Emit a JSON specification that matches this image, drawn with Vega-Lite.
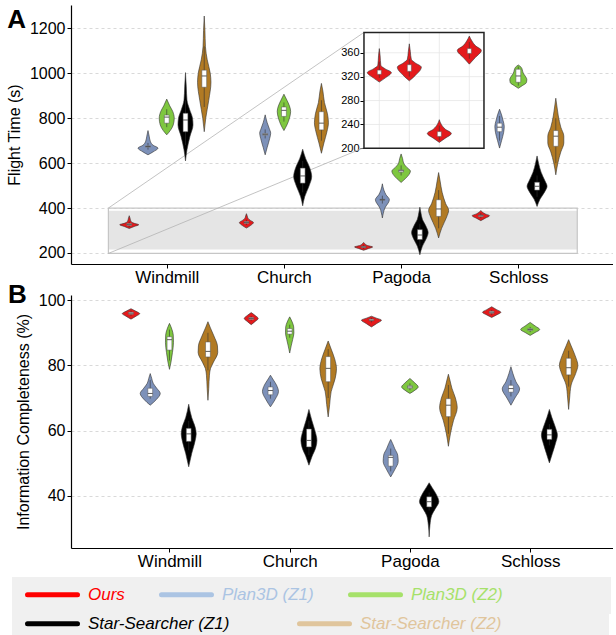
{
"$schema": "https://vega.github.io/schema/vega-lite/v6.json",
"padding": {"left": 6, "top": 5, "right": 0, "bottom": 0},
"background": "white",
"config": {
 "font": "Liberation Sans",
 "view": {"stroke": null},
 "axis": {"labelColor": "#000", "titleColor": "#000", "domainColor": "#000", "tickColor": "#000", "labelFont": "Liberation Sans", "titleFont": "Liberation Sans", "titleFontWeight": "normal"}
},
"datasets": {
 "vA": [
  {"s":"Windmill","m":"O","v":309,"d":0},{"s":"Windmill","m":"O","v":318,"d":5},{"s":"Windmill","m":"O","v":326,"d":9.5},{"s":"Windmill","m":"O","v":332,"d":5},{"s":"Windmill","m":"O","v":340,"d":1.8},{"s":"Windmill","m":"O","v":355,"d":0.8},{"s":"Windmill","m":"O","v":366,"d":0},
  {"s":"Windmill","m":"P1","v":637,"d":0},{"s":"Windmill","m":"P1","v":650,"d":5},{"s":"Windmill","m":"P1","v":667,"d":10},{"s":"Windmill","m":"P1","v":680,"d":5},{"s":"Windmill","m":"P1","v":695,"d":2.5},{"s":"Windmill","m":"P1","v":720,"d":1.2},{"s":"Windmill","m":"P1","v":745,"d":0},
  {"s":"Windmill","m":"P2","v":726,"d":0},{"s":"Windmill","m":"P2","v":745,"d":3.5},{"s":"Windmill","m":"P2","v":770,"d":6.5},{"s":"Windmill","m":"P2","v":800,"d":7.5},{"s":"Windmill","m":"P2","v":830,"d":6},{"s":"Windmill","m":"P2","v":855,"d":3},{"s":"Windmill","m":"P2","v":885,"d":0},
  {"s":"Windmill","m":"S1","v":610,"d":0},{"s":"Windmill","m":"S1","v":660,"d":1.5},{"s":"Windmill","m":"S1","v":720,"d":4.5},{"s":"Windmill","m":"S1","v":770,"d":7.5},{"s":"Windmill","m":"S1","v":800,"d":7},{"s":"Windmill","m":"S1","v":840,"d":4},{"s":"Windmill","m":"S1","v":880,"d":1.5},{"s":"Windmill","m":"S1","v":940,"d":0.8},{"s":"Windmill","m":"S1","v":1003,"d":0},
  {"s":"Windmill","m":"S2","v":740,"d":0},{"s":"Windmill","m":"S2","v":800,"d":1.5},{"s":"Windmill","m":"S2","v":880,"d":4.5},{"s":"Windmill","m":"S2","v":960,"d":6.7},{"s":"Windmill","m":"S2","v":1000,"d":6},{"s":"Windmill","m":"S2","v":1060,"d":3},{"s":"Windmill","m":"S2","v":1118,"d":1.2},{"s":"Windmill","m":"S2","v":1190,"d":0.7},{"s":"Windmill","m":"S2","v":1255,"d":0},
  {"s":"Church","m":"O","v":311,"d":0},{"s":"Church","m":"O","v":322,"d":4},{"s":"Church","m":"O","v":336,"d":7},{"s":"Church","m":"O","v":345,"d":4},{"s":"Church","m":"O","v":355,"d":1.5},{"s":"Church","m":"O","v":365,"d":0.8},{"s":"Church","m":"O","v":375,"d":0},
  {"s":"Church","m":"P1","v":637,"d":0},{"s":"Church","m":"P1","v":670,"d":2},{"s":"Church","m":"P1","v":710,"d":4.5},{"s":"Church","m":"P1","v":733,"d":5.5},{"s":"Church","m":"P1","v":755,"d":4},{"s":"Church","m":"P1","v":780,"d":2},{"s":"Church","m":"P1","v":815,"d":0},
  {"s":"Church","m":"P2","v":745,"d":0},{"s":"Church","m":"P2","v":770,"d":3},{"s":"Church","m":"P2","v":800,"d":5.5},{"s":"Church","m":"P2","v":830,"d":6.7},{"s":"Church","m":"P2","v":855,"d":5.5},{"s":"Church","m":"P2","v":880,"d":3},{"s":"Church","m":"P2","v":907,"d":0},
  {"s":"Church","m":"S1","v":410,"d":0},{"s":"Church","m":"S1","v":450,"d":2},{"s":"Church","m":"S1","v":500,"d":6.5},{"s":"Church","m":"S1","v":540,"d":9},{"s":"Church","m":"S1","v":580,"d":7},{"s":"Church","m":"S1","v":620,"d":3},{"s":"Church","m":"S1","v":662,"d":0},
  {"s":"Church","m":"S2","v":644,"d":0},{"s":"Church","m":"S2","v":690,"d":2.5},{"s":"Church","m":"S2","v":740,"d":5.5},{"s":"Church","m":"S2","v":780,"d":7},{"s":"Church","m":"S2","v":820,"d":6},{"s":"Church","m":"S2","v":870,"d":3},{"s":"Church","m":"S2","v":920,"d":1.5},{"s":"Church","m":"S2","v":955,"d":0},
  {"s":"Pagoda","m":"O","v":212,"d":0},{"s":"Pagoda","m":"O","v":220,"d":5},{"s":"Pagoda","m":"O","v":227,"d":9},{"s":"Pagoda","m":"O","v":233,"d":4},{"s":"Pagoda","m":"O","v":240,"d":1.5},{"s":"Pagoda","m":"O","v":247,"d":0},
  {"s":"Pagoda","m":"P1","v":356,"d":0},{"s":"Pagoda","m":"P1","v":400,"d":2.5},{"s":"Pagoda","m":"P1","v":437,"d":7},{"s":"Pagoda","m":"P1","v":460,"d":3.5},{"s":"Pagoda","m":"P1","v":480,"d":1.5},{"s":"Pagoda","m":"P1","v":508,"d":0},
  {"s":"Pagoda","m":"P2","v":514,"d":0},{"s":"Pagoda","m":"P2","v":530,"d":4},{"s":"Pagoda","m":"P2","v":550,"d":8},{"s":"Pagoda","m":"P2","v":565,"d":9.3},{"s":"Pagoda","m":"P2","v":580,"d":6},{"s":"Pagoda","m":"P2","v":600,"d":2.5},{"s":"Pagoda","m":"P2","v":620,"d":1.5},{"s":"Pagoda","m":"P2","v":641,"d":0},
  {"s":"Pagoda","m":"S1","v":192,"d":0},{"s":"Pagoda","m":"S1","v":230,"d":2.5},{"s":"Pagoda","m":"S1","v":270,"d":7},{"s":"Pagoda","m":"S1","v":290,"d":8.3},{"s":"Pagoda","m":"S1","v":320,"d":6},{"s":"Pagoda","m":"S1","v":350,"d":2.5},{"s":"Pagoda","m":"S1","v":380,"d":1},{"s":"Pagoda","m":"S1","v":404,"d":0},
  {"s":"Pagoda","m":"S2","v":267,"d":0},{"s":"Pagoda","m":"S2","v":310,"d":3},{"s":"Pagoda","m":"S2","v":360,"d":8},{"s":"Pagoda","m":"S2","v":390,"d":10},{"s":"Pagoda","m":"S2","v":420,"d":7},{"s":"Pagoda","m":"S2","v":470,"d":3.5},{"s":"Pagoda","m":"S2","v":520,"d":1.5},{"s":"Pagoda","m":"S2","v":558,"d":0},
  {"s":"Schloss","m":"O","v":344,"d":0},{"s":"Schloss","m":"O","v":355,"d":4.5},{"s":"Schloss","m":"O","v":366,"d":8.7},{"s":"Schloss","m":"O","v":374,"d":4.5},{"s":"Schloss","m":"O","v":382,"d":1.5},{"s":"Schloss","m":"O","v":389,"d":0},
  {"s":"Schloss","m":"P1","v":667,"d":0},{"s":"Schloss","m":"P1","v":700,"d":2},{"s":"Schloss","m":"P1","v":735,"d":4},{"s":"Schloss","m":"P1","v":763,"d":4.7},{"s":"Schloss","m":"P1","v":790,"d":3.5},{"s":"Schloss","m":"P1","v":815,"d":2},{"s":"Schloss","m":"P1","v":840,"d":0},
  {"s":"Schloss","m":"P2","v":933,"d":0},{"s":"Schloss","m":"P2","v":945,"d":4},{"s":"Schloss","m":"P2","v":958,"d":8},{"s":"Schloss","m":"P2","v":972,"d":8.5},{"s":"Schloss","m":"P2","v":987,"d":7},{"s":"Schloss","m":"P2","v":1000,"d":5},{"s":"Schloss","m":"P2","v":1015,"d":4},{"s":"Schloss","m":"P2","v":1026,"d":3},{"s":"Schloss","m":"P2","v":1037,"d":0},
  {"s":"Schloss","m":"S1","v":407,"d":0},{"s":"Schloss","m":"S1","v":440,"d":3},{"s":"Schloss","m":"S1","v":475,"d":8},{"s":"Schloss","m":"S1","v":497,"d":10},{"s":"Schloss","m":"S1","v":520,"d":8},{"s":"Schloss","m":"S1","v":560,"d":4},{"s":"Schloss","m":"S1","v":600,"d":1.5},{"s":"Schloss","m":"S1","v":632,"d":0},
  {"s":"Schloss","m":"S2","v":548,"d":0},{"s":"Schloss","m":"S2","v":600,"d":2},{"s":"Schloss","m":"S2","v":650,"d":5},{"s":"Schloss","m":"S2","v":690,"d":8},{"s":"Schloss","m":"S2","v":720,"d":8},{"s":"Schloss","m":"S2","v":760,"d":5},{"s":"Schloss","m":"S2","v":810,"d":2.5},{"s":"Schloss","m":"S2","v":850,"d":1.2},{"s":"Schloss","m":"S2","v":889,"d":0}
 ],
 "vI": [
  {"s":"Windmill","m":"O","v":311,"d":0},{"s":"Windmill","m":"O","v":318,"d":6},{"s":"Windmill","m":"O","v":327,"d":12},{"s":"Windmill","m":"O","v":333,"d":6},{"s":"Windmill","m":"O","v":339,"d":1.5},{"s":"Windmill","m":"O","v":355,"d":0.8},{"s":"Windmill","m":"O","v":367,"d":0},
  {"s":"Church","m":"O","v":313,"d":0},{"s":"Church","m":"O","v":322,"d":6},{"s":"Church","m":"O","v":336,"d":12},{"s":"Church","m":"O","v":343,"d":6},{"s":"Church","m":"O","v":349,"d":2},{"s":"Church","m":"O","v":362,"d":1},{"s":"Church","m":"O","v":375,"d":0},
  {"s":"Pagoda","m":"O","v":210,"d":0},{"s":"Pagoda","m":"O","v":217,"d":6},{"s":"Pagoda","m":"O","v":225,"d":12},{"s":"Pagoda","m":"O","v":232,"d":6},{"s":"Pagoda","m":"O","v":240,"d":2},{"s":"Pagoda","m":"O","v":248,"d":0},
  {"s":"Schloss","m":"O","v":341,"d":0},{"s":"Schloss","m":"O","v":352,"d":6},{"s":"Schloss","m":"O","v":364,"d":12},{"s":"Schloss","m":"O","v":372,"d":6},{"s":"Schloss","m":"O","v":380,"d":2.5},{"s":"Schloss","m":"O","v":388,"d":0}
 ],
 "vB": [
  {"s":"Windmill","m":"O","v":94.2,"d":0},{"s":"Windmill","m":"O","v":95.1,"d":5},{"s":"Windmill","m":"O","v":95.9,"d":8.7},{"s":"Windmill","m":"O","v":96.6,"d":5},{"s":"Windmill","m":"O","v":97.4,"d":0},
  {"s":"Windmill","m":"P1","v":67.8,"d":0},{"s":"Windmill","m":"P1","v":69.5,"d":6},{"s":"Windmill","m":"P1","v":71.4,"d":10},{"s":"Windmill","m":"P1","v":73,"d":6.5},{"s":"Windmill","m":"P1","v":74.5,"d":3},{"s":"Windmill","m":"P1","v":76,"d":1.5},{"s":"Windmill","m":"P1","v":77.5,"d":0},
  {"s":"Windmill","m":"P2","v":78.8,"d":0},{"s":"Windmill","m":"P2","v":81,"d":1.5},{"s":"Windmill","m":"P2","v":84,"d":3},{"s":"Windmill","m":"P2","v":87,"d":4},{"s":"Windmill","m":"P2","v":89.3,"d":3.8},{"s":"Windmill","m":"P2","v":91,"d":2.5},{"s":"Windmill","m":"P2","v":92.9,"d":0},
  {"s":"Windmill","m":"S1","v":48.9,"d":0},{"s":"Windmill","m":"S1","v":53,"d":3},{"s":"Windmill","m":"S1","v":57,"d":6.5},{"s":"Windmill","m":"S1","v":59,"d":7.5},{"s":"Windmill","m":"S1","v":61,"d":6.5},{"s":"Windmill","m":"S1","v":64,"d":3},{"s":"Windmill","m":"S1","v":68.1,"d":0},
  {"s":"Windmill","m":"S2","v":69.3,"d":0},{"s":"Windmill","m":"S2","v":73,"d":0.8},{"s":"Windmill","m":"S2","v":77,"d":1.5},{"s":"Windmill","m":"S2","v":79,"d":2.5},{"s":"Windmill","m":"S2","v":81,"d":5.5},{"s":"Windmill","m":"S2","v":84,"d":9.8},{"s":"Windmill","m":"S2","v":86,"d":9.5},{"s":"Windmill","m":"S2","v":89,"d":6},{"s":"Windmill","m":"S2","v":91.5,"d":2.5},{"s":"Windmill","m":"S2","v":93.4,"d":0},
  {"s":"Church","m":"O","v":92.5,"d":0},{"s":"Church","m":"O","v":93.5,"d":4},{"s":"Church","m":"O","v":94.4,"d":7},{"s":"Church","m":"O","v":95.3,"d":4},{"s":"Church","m":"O","v":96.2,"d":0},
  {"s":"Church","m":"P1","v":67.3,"d":0},{"s":"Church","m":"P1","v":69.5,"d":4.5},{"s":"Church","m":"P1","v":72,"d":8},{"s":"Church","m":"P1","v":74,"d":6},{"s":"Church","m":"P1","v":75.5,"d":3},{"s":"Church","m":"P1","v":77,"d":0},
  {"s":"Church","m":"P2","v":83.8,"d":0},{"s":"Church","m":"P2","v":86,"d":1.5},{"s":"Church","m":"P2","v":88,"d":3},{"s":"Church","m":"P2","v":90,"d":4.2},{"s":"Church","m":"P2","v":91.8,"d":4},{"s":"Church","m":"P2","v":93.3,"d":2.5},{"s":"Church","m":"P2","v":94.9,"d":0},
  {"s":"Church","m":"S1","v":49.4,"d":0},{"s":"Church","m":"S1","v":52,"d":3},{"s":"Church","m":"S1","v":55,"d":7},{"s":"Church","m":"S1","v":57,"d":8},{"s":"Church","m":"S1","v":60,"d":6},{"s":"Church","m":"S1","v":63,"d":3},{"s":"Church","m":"S1","v":66.5,"d":0},
  {"s":"Church","m":"S2","v":64.2,"d":0},{"s":"Church","m":"S2","v":68,"d":1.5},{"s":"Church","m":"S2","v":72,"d":3},{"s":"Church","m":"S2","v":76,"d":7},{"s":"Church","m":"S2","v":79,"d":8.3},{"s":"Church","m":"S2","v":82,"d":6.5},{"s":"Church","m":"S2","v":85,"d":3},{"s":"Church","m":"S2","v":87.5,"d":0},
  {"s":"Pagoda","m":"O","v":91.8,"d":0},{"s":"Pagoda","m":"O","v":92.8,"d":5},{"s":"Pagoda","m":"O","v":93.9,"d":10},{"s":"Pagoda","m":"O","v":94.5,"d":5},{"s":"Pagoda","m":"O","v":95.1,"d":0},
  {"s":"Pagoda","m":"P1","v":45.8,"d":0},{"s":"Pagoda","m":"P1","v":48,"d":4},{"s":"Pagoda","m":"P1","v":50.5,"d":7.5},{"s":"Pagoda","m":"P1","v":52.5,"d":7},{"s":"Pagoda","m":"P1","v":54.5,"d":4},{"s":"Pagoda","m":"P1","v":56,"d":2},{"s":"Pagoda","m":"P1","v":57.3,"d":0},
  {"s":"Pagoda","m":"P2","v":71.4,"d":0},{"s":"Pagoda","m":"P2","v":72.4,"d":5},{"s":"Pagoda","m":"P2","v":73.4,"d":8.3},{"s":"Pagoda","m":"P2","v":74.6,"d":5},{"s":"Pagoda","m":"P2","v":76,"d":0},
  {"s":"Pagoda","m":"S1","v":27.4,"d":0},{"s":"Pagoda","m":"S1","v":31,"d":0.8},{"s":"Pagoda","m":"S1","v":34,"d":2.5},{"s":"Pagoda","m":"S1","v":36,"d":6},{"s":"Pagoda","m":"S1","v":38.2,"d":9.7},{"s":"Pagoda","m":"S1","v":40.5,"d":7},{"s":"Pagoda","m":"S1","v":42.5,"d":3},{"s":"Pagoda","m":"S1","v":44,"d":0},
  {"s":"Pagoda","m":"S2","v":55.2,"d":0},{"s":"Pagoda","m":"S2","v":59,"d":2},{"s":"Pagoda","m":"S2","v":63,"d":5},{"s":"Pagoda","m":"S2","v":67,"d":8.8},{"s":"Pagoda","m":"S2","v":70,"d":7},{"s":"Pagoda","m":"S2","v":73,"d":3.5},{"s":"Pagoda","m":"S2","v":75.5,"d":1.5},{"s":"Pagoda","m":"S2","v":77.3,"d":0},
  {"s":"Schloss","m":"O","v":94.7,"d":0},{"s":"Schloss","m":"O","v":95.5,"d":5},{"s":"Schloss","m":"O","v":96.3,"d":9.2},{"s":"Schloss","m":"O","v":97.1,"d":5},{"s":"Schloss","m":"O","v":98,"d":0},
  {"s":"Schloss","m":"P1","v":67.8,"d":0},{"s":"Schloss","m":"P1","v":70,"d":4},{"s":"Schloss","m":"P1","v":72.8,"d":8.7},{"s":"Schloss","m":"P1","v":75,"d":5},{"s":"Schloss","m":"P1","v":77.5,"d":2},{"s":"Schloss","m":"P1","v":79.6,"d":0},
  {"s":"Schloss","m":"P2","v":89.2,"d":0},{"s":"Schloss","m":"P2","v":90.1,"d":5},{"s":"Schloss","m":"P2","v":91,"d":9.5},{"s":"Schloss","m":"P2","v":92.1,"d":5},{"s":"Schloss","m":"P2","v":93.2,"d":0},
  {"s":"Schloss","m":"S1","v":50.1,"d":0},{"s":"Schloss","m":"S1","v":53,"d":3},{"s":"Schloss","m":"S1","v":56,"d":6},{"s":"Schloss","m":"S1","v":58.6,"d":8},{"s":"Schloss","m":"S1","v":61,"d":6},{"s":"Schloss","m":"S1","v":64,"d":2.5},{"s":"Schloss","m":"S1","v":66.5,"d":0},
  {"s":"Schloss","m":"S2","v":66.5,"d":0},{"s":"Schloss","m":"S2","v":70,"d":1},{"s":"Schloss","m":"S2","v":74,"d":2.5},{"s":"Schloss","m":"S2","v":77.5,"d":7},{"s":"Schloss","m":"S2","v":80,"d":9.2},{"s":"Schloss","m":"S2","v":83,"d":6.5},{"s":"Schloss","m":"S2","v":86,"d":2.5},{"s":"Schloss","m":"S2","v":87.9,"d":0}
 ],
 "bA": [
  {"s":"Windmill","m":"O","q1":323,"med":327,"q3":331,"lo":315,"hi":340},
  {"s":"Windmill","m":"P1","q1":671,"med":674,"q3":677,"lo":660,"hi":690},
  {"s":"Windmill","m":"P2","q1":778,"med":805,"q3":814,"lo":760,"hi":840},
  {"s":"Windmill","m":"S1","q1":740,"med":792,"q3":822,"lo":680,"hi":880},
  {"s":"Windmill","m":"S2","q1":938,"med":988,"q3":1014,"lo":850,"hi":1120},
  {"s":"Church","m":"O","q1":332,"med":336,"q3":340,"lo":325,"hi":348},
  {"s":"Church","m":"P1","q1":724,"med":728,"q3":732,"lo":710,"hi":750},
  {"s":"Church","m":"P2","q1":808,"med":835,"q3":850,"lo":785,"hi":870},
  {"s":"Church","m":"S1","q1":511,"med":543,"q3":578,"lo":470,"hi":610},
  {"s":"Church","m":"S2","q1":748,"med":778,"q3":829,"lo":700,"hi":880},
  {"s":"Pagoda","m":"O","q1":224,"med":227,"q3":230,"lo":218,"hi":236},
  {"s":"Pagoda","m":"P1","q1":435,"med":437,"q3":439,"lo":420,"hi":455},
  {"s":"Pagoda","m":"P2","q1":560,"med":566,"q3":570,"lo":545,"hi":590},
  {"s":"Pagoda","m":"S1","q1":260,"med":280,"q3":304,"lo":230,"hi":330},
  {"s":"Pagoda","m":"S2","q1":363,"med":396,"q3":437,"lo":310,"hi":480},
  {"s":"Schloss","m":"O","q1":362,"med":366,"q3":369,"lo":355,"hi":378},
  {"s":"Schloss","m":"P1","q1":740,"med":760,"q3":778,"lo":700,"hi":810},
  {"s":"Schloss","m":"P2","q1":960,"med":988,"q3":1018,"lo":945,"hi":1030},
  {"s":"Schloss","m":"S1","q1":480,"med":497,"q3":515,"lo":450,"hi":545},
  {"s":"Schloss","m":"S2","q1":675,"med":720,"q3":745,"lo":600,"hi":800}
 ],
 "bI": [
  {"s":"Windmill","m":"O","q1":324,"med":327,"q3":331,"lo":318,"hi":345},
  {"s":"Church","m":"O","q1":329,"med":335,"q3":340,"lo":320,"hi":350},
  {"s":"Pagoda","m":"O","q1":220,"med":224,"q3":228,"lo":213,"hi":238},
  {"s":"Schloss","m":"O","q1":359,"med":363,"q3":367,"lo":350,"hi":378}
 ],
 "bB": [
  {"s":"Windmill","m":"O","q1":95.7,"med":96,"q3":96.3,"lo":95.2,"hi":96.8},
  {"s":"Windmill","m":"P1","q1":70.5,"med":71.4,"q3":73,"lo":69.8,"hi":75.5},
  {"s":"Windmill","m":"P2","q1":84.7,"med":87.9,"q3":88.8,"lo":81.5,"hi":91},
  {"s":"Windmill","m":"S1","q1":56.7,"med":59,"q3":60.7,"lo":54,"hi":63},
  {"s":"Windmill","m":"S2","q1":82.6,"med":84.3,"q3":87.2,"lo":78.5,"hi":90},
  {"s":"Church","m":"O","q1":94.1,"med":94.4,"q3":94.7,"lo":93.7,"hi":95.1},
  {"s":"Church","m":"P1","q1":71,"med":72.3,"q3":73.4,"lo":69.8,"hi":75},
  {"s":"Church","m":"P2","q1":89.6,"med":90.5,"q3":91.3,"lo":88.5,"hi":92.5},
  {"s":"Church","m":"S1","q1":55,"med":57,"q3":60.5,"lo":52.5,"hi":63},
  {"s":"Church","m":"S2","q1":75,"med":79.1,"q3":82.7,"lo":70,"hi":85},
  {"s":"Pagoda","m":"O","q1":93.7,"med":93.9,"q3":94.2,"lo":93.2,"hi":94.6},
  {"s":"Pagoda","m":"P1","q1":49.1,"med":51.8,"q3":52.4,"lo":47.5,"hi":54.5},
  {"s":"Pagoda","m":"P2","q1":73,"med":73.4,"q3":73.8,"lo":72.4,"hi":74.5},
  {"s":"Pagoda","m":"S1","q1":36.6,"med":38.2,"q3":39.7,"lo":35.5,"hi":41},
  {"s":"Pagoda","m":"S2","q1":64.3,"med":67.8,"q3":69.8,"lo":59,"hi":74},
  {"s":"Schloss","m":"O","q1":96,"med":96.3,"q3":96.6,"lo":95.5,"hi":97},
  {"s":"Schloss","m":"P1","q1":71.8,"med":72.9,"q3":73.9,"lo":70.5,"hi":75.5},
  {"s":"Schloss","m":"P2","q1":90.7,"med":91,"q3":91.3,"lo":90.2,"hi":91.8},
  {"s":"Schloss","m":"S1","q1":57.3,"med":58.7,"q3":60.4,"lo":55.5,"hi":62},
  {"s":"Schloss","m":"S2","q1":77.1,"med":79.3,"q3":82.2,"lo":73.5,"hi":84.5}
 ]
},
"bounds": "flush",
"spacing": 31,
"vconcat": [
 {
  "width": 542, "height": 259,
  "resolve": {"scale": {"y": "independent"}},
  "layer": [
   {"layer": [
    {"data": {"values": [{}]}, "mark": {"type": "rect", "fill": "#e5e5e5"},
     "encoding": {"x": {"datum": 0.502, "type": "quantitative", "scale": {"domain": [0.183, 4.808], "nice": false, "zero": false}}, "x2": {"datum": 4.503},
      "y": {"datum": 215, "type": "quantitative", "scale": {"domain": [151, 1304], "nice": false, "zero": false}}, "y2": {"datum": 388}}},
    {"data": {"values": [{}]}, "mark": {"type": "rect", "filled": false, "stroke": "#c6c6c6", "strokeWidth": 1.2},
     "encoding": {"x": {"datum": 0.502, "type": "quantitative"}, "x2": {"datum": 4.503},
      "y": {"datum": 198, "type": "quantitative"}, "y2": {"datum": 400}}},
    {"data": {"values": [{}]}, "mark": {"type": "rule", "color": "#b4b4b4", "strokeWidth": 0.8},
     "encoding": {"x": {"datum": 0.502, "type": "quantitative"}, "x2": {"datum": 2.683}, "y": {"datum": 400, "type": "quantitative"}, "y2": {"datum": 1182}}},
    {"data": {"values": [{}]}, "mark": {"type": "rule", "color": "#b4b4b4", "strokeWidth": 0.8},
     "encoding": {"x": {"datum": 0.502, "type": "quantitative"}, "x2": {"datum": 2.683}, "y": {"datum": 198, "type": "quantitative"}, "y2": {"datum": 669}}},
    {"data": {"values": [{}]}, "mark": {"type": "text", "text": "A", "fontSize": 26, "fontWeight": "bold", "align": "left", "baseline": "alphabetic", "color": "#000"},
     "encoding": {"x": {"datum": -0.36, "type": "quantitative"}, "y": {"datum": 1200, "type": "quantitative"}}},
    {"data": {"name": "vA"},
     "transform": [
      {"calculate": "indexof(['Windmill','Church','Pagoda','Schloss'], datum.s) + 1 + (indexof(['O','P1','P2','S1','S2'], datum.m) - 2) * 0.16", "as": "pos"},
      {"calculate": "datum.pos - datum.d / 117", "as": "xl"},
      {"calculate": "datum.pos + datum.d / 117", "as": "xr"}
     ],
     "mark": {"type": "area", "orient": "horizontal", "interpolate": "monotone", "stroke": "#333", "strokeWidth": 0.6},
     "encoding": {
      "y": {"field": "v", "type": "quantitative", "scale": {"domain": [151, 1304], "nice": false, "zero": false},
       "axis": {"title": "Flight Time (s)", "format": "d", "values": [200,400,600,800,1000,1200], "grid": true, "gridDash": [3,3], "gridColor": "#cfcfcf", "gridWidth": 0.8, "tickSize": 4, "labelFontSize": 16, "titleFontSize": 16, "titlePadding": 7, "labelPadding": 2, "domainWidth": 1.2}},
      "x": {"field": "xl", "type": "quantitative", "scale": {"domain": [0.183, 4.808], "nice": false, "zero": false},
       "axis": {"values": [1,2,3,4], "labelExpr": "['Windmill','Church','Pagoda','Schloss'][datum.value - 1]", "title": null, "grid": false, "tickSize": 4, "labelFontSize": 17, "labelPadding": 1, "domainWidth": 1.2}},
      "x2": {"field": "xr"},
      "fill": {"field": "m", "type": "nominal", "scale": {"domain": ["O","P1","P2","S1","S2"], "range": ["#e41a1c","#7d91b9","#7ec73f","#000000","#b17a24"]}, "legend": null},
      "detail": {"field": "s"}
     }},
    {"data": {"name": "bA"},
     "transform": [{"calculate": "indexof(['Windmill','Church','Pagoda','Schloss'], datum.s) + 1 + (indexof(['O','P1','P2','S1','S2'], datum.m) - 2) * 0.16", "as": "pos"}],
     "mark": {"type": "rule", "color": "#333", "strokeWidth": 0.6},
     "encoding": {"x": {"field": "pos", "type": "quantitative"}, "y": {"field": "lo", "type": "quantitative"}, "y2": {"field": "hi"}}},
    {"data": {"name": "bA"},
     "transform": [{"calculate": "indexof(['Windmill','Church','Pagoda','Schloss'], datum.s) + 1 + (indexof(['O','P1','P2','S1','S2'], datum.m) - 2) * 0.16", "as": "pos"},
      {"calculate": "datum.pos - 2.4 / 117", "as": "bl"}, {"calculate": "datum.pos + 2.4 / 117", "as": "br"}],
     "mark": {"type": "rect", "fill": "#ffffff", "stroke": "#555", "strokeWidth": 0.5},
     "encoding": {"x": {"field": "bl", "type": "quantitative"}, "x2": {"field": "br"}, "y": {"field": "q1", "type": "quantitative"}, "y2": {"field": "q3"}}},
    {"data": {"name": "bA"},
     "transform": [{"calculate": "indexof(['Windmill','Church','Pagoda','Schloss'], datum.s) + 1 + (indexof(['O','P1','P2','S1','S2'], datum.m) - 2) * 0.16", "as": "pos"},
      {"calculate": "datum.pos - 2.4 / 117", "as": "bl"}, {"calculate": "datum.pos + 2.4 / 117", "as": "br"}],
     "mark": {"type": "rule", "color": "#333", "strokeWidth": 0.8},
     "encoding": {"x": {"field": "bl", "type": "quantitative"}, "x2": {"field": "br"}, "y": {"field": "med", "type": "quantitative"}}}
   ]},
   {"layer": [
    {"data": {"values": [{}]}, "mark": {"type": "rect", "fill": "#ffffff"},
     "encoding": {"x": {"datum": 2.683, "type": "quantitative"}, "x2": {"datum": 3.707},
      "y": {"datum": 200, "type": "quantitative", "scale": {"domain": [6.4, 440], "nice": false, "zero": false},
       "axis": {"orient": "left", "offset": -293, "domain": false, "grid": false, "title": null, "values": [200,240,280,320,360], "labelFontSize": 11, "tickSize": 4, "labelPadding": 1}},
      "y2": {"datum": 394}}},
    {"data": {"values": [{"g":200},{"g":240},{"g":280},{"g":320},{"g":360}]}, "mark": {"type": "rule", "color": "#e6e6e6", "strokeWidth": 0.8},
     "encoding": {"y": {"field": "g", "type": "quantitative"}, "x": {"datum": 2.683, "type": "quantitative"}, "x2": {"datum": 3.707}}},
    {"data": {"name": "bI"},
     "transform": [{"calculate": "2.814 + indexof(['Windmill','Church','Pagoda','Schloss'], datum.s) * 0.256", "as": "pos"}],
     "mark": {"type": "rule", "color": "#e6e6e6", "strokeWidth": 0.8},
     "encoding": {"x": {"field": "pos", "type": "quantitative"}, "y": {"datum": 200, "type": "quantitative"}, "y2": {"datum": 394}}},
    {"data": {"name": "vI"},
     "transform": [
      {"calculate": "2.814 + indexof(['Windmill','Church','Pagoda','Schloss'], datum.s) * 0.256", "as": "pos"},
      {"calculate": "datum.pos - datum.d / 117", "as": "xl"},
      {"calculate": "datum.pos + datum.d / 117", "as": "xr"}
     ],
     "mark": {"type": "area", "orient": "horizontal", "interpolate": "monotone", "stroke": "#333", "strokeWidth": 0.6},
     "encoding": {"y": {"field": "v", "type": "quantitative"}, "x": {"field": "xl", "type": "quantitative"}, "x2": {"field": "xr"},
      "fill": {"field": "m", "type": "nominal", "scale": {"domain": ["O","P1","P2","S1","S2"], "range": ["#e41a1c","#7d91b9","#7ec73f","#000000","#b17a24"]}, "legend": null},
      "detail": {"field": "s"}}},
    {"data": {"name": "bI"},
     "transform": [{"calculate": "2.814 + indexof(['Windmill','Church','Pagoda','Schloss'], datum.s) * 0.256", "as": "pos"}],
     "mark": {"type": "rule", "color": "#333", "strokeWidth": 0.6},
     "encoding": {"x": {"field": "pos", "type": "quantitative"}, "y": {"field": "lo", "type": "quantitative"}, "y2": {"field": "hi"}}},
    {"data": {"name": "bI"},
     "transform": [{"calculate": "2.814 + indexof(['Windmill','Church','Pagoda','Schloss'], datum.s) * 0.256", "as": "pos"},
      {"calculate": "datum.pos - 2 / 117", "as": "bl"}, {"calculate": "datum.pos + 2 / 117", "as": "br"}],
     "mark": {"type": "rect", "fill": "#ffffff", "stroke": "#555", "strokeWidth": 0.5},
     "encoding": {"x": {"field": "bl", "type": "quantitative"}, "x2": {"field": "br"}, "y": {"field": "q1", "type": "quantitative"}, "y2": {"field": "q3"}}},
    {"data": {"values": [{}]}, "mark": {"type": "rect", "filled": false, "stroke": "#222", "strokeWidth": 1.5},
     "encoding": {"x": {"datum": 2.683, "type": "quantitative"}, "x2": {"datum": 3.707}, "y": {"datum": 200, "type": "quantitative"}, "y2": {"datum": 394}}}
   ]}
  ]
 },
 {
  "width": 542, "height": 253,
  "layer": [
   {"data": {"name": "vB"},
    "transform": [
     {"calculate": "indexof(['Windmill','Church','Pagoda','Schloss'], datum.s) + 1 + (indexof(['O','P1','P2','S1','S2'], datum.m) - 2) * 0.16", "as": "pos"},
     {"calculate": "datum.pos - datum.d / 120", "as": "xl"},
     {"calculate": "datum.pos + datum.d / 120", "as": "xr"}
    ],
    "mark": {"type": "area", "orient": "horizontal", "interpolate": "monotone", "stroke": "#333", "strokeWidth": 0.6},
    "encoding": {
     "y": {"field": "v", "type": "quantitative", "scale": {"domain": [24, 101.6], "nice": false, "zero": false},
      "axis": {"title": "Information Completeness (%)", "values": [40,60,80,100], "grid": true, "gridDash": [3,3], "gridColor": "#cfcfcf", "gridWidth": 0.8, "tickSize": 4, "labelFontSize": 16, "titleFontSize": 16, "titlePadding": 7, "labelPadding": 2, "domainWidth": 1.2}},
     "x": {"field": "xl", "type": "quantitative", "scale": {"domain": [0.181, 4.689], "nice": false, "zero": false},
      "axis": {"values": [1,2,3,4], "labelExpr": "['Windmill','Church','Pagoda','Schloss'][datum.value - 1]", "title": null, "grid": false, "tickSize": 4, "labelFontSize": 17, "labelPadding": 1, "domainWidth": 1.2}},
     "x2": {"field": "xr"},
     "fill": {"field": "m", "type": "nominal", "scale": {"domain": ["O","P1","P2","S1","S2"], "range": ["#e41a1c","#7d91b9","#7ec73f","#000000","#b17a24"]}, "legend": null},
     "detail": {"field": "s"}
    }},
   {"data": {"values": [{}]}, "mark": {"type": "text", "text": "B", "fontSize": 26, "fontWeight": "bold", "align": "left", "baseline": "alphabetic", "color": "#000"},
    "encoding": {"x": {"datum": -0.342, "type": "quantitative"}, "y": {"datum": 99.1, "type": "quantitative"}}},
   {"data": {"name": "bB"},
    "transform": [{"calculate": "indexof(['Windmill','Church','Pagoda','Schloss'], datum.s) + 1 + (indexof(['O','P1','P2','S1','S2'], datum.m) - 2) * 0.16", "as": "pos"}],
    "mark": {"type": "rule", "color": "#333", "strokeWidth": 0.6},
    "encoding": {"x": {"field": "pos", "type": "quantitative"}, "y": {"field": "lo", "type": "quantitative"}, "y2": {"field": "hi"}}},
   {"data": {"name": "bB"},
    "transform": [{"calculate": "indexof(['Windmill','Church','Pagoda','Schloss'], datum.s) + 1 + (indexof(['O','P1','P2','S1','S2'], datum.m) - 2) * 0.16", "as": "pos"},
     {"calculate": "datum.pos - 2.4 / 120", "as": "bl"}, {"calculate": "datum.pos + 2.4 / 120", "as": "br"}],
    "mark": {"type": "rect", "fill": "#ffffff", "stroke": "#555", "strokeWidth": 0.5},
    "encoding": {"x": {"field": "bl", "type": "quantitative"}, "x2": {"field": "br"}, "y": {"field": "q1", "type": "quantitative"}, "y2": {"field": "q3"}}},
   {"data": {"name": "bB"},
    "transform": [{"calculate": "indexof(['Windmill','Church','Pagoda','Schloss'], datum.s) + 1 + (indexof(['O','P1','P2','S1','S2'], datum.m) - 2) * 0.16", "as": "pos"},
     {"calculate": "datum.pos - 2.4 / 120", "as": "bl"}, {"calculate": "datum.pos + 2.4 / 120", "as": "br"}],
    "mark": {"type": "rule", "color": "#333", "strokeWidth": 0.8},
    "encoding": {"x": {"field": "bl", "type": "quantitative"}, "x2": {"field": "br"}, "y": {"field": "med", "type": "quantitative"}}},
   {"data": {"values": [{"r1": "Ours"}]},
    "transform": [{"filter": "false"}],
    "mark": {"type": "rule"},
    "encoding": {
     "stroke": {"field": "r1", "type": "nominal",
      "scale": {"domain": ["Ours","Plan3D (Z1)","Plan3D (Z2)"], "range": ["#ff0000","#abc4e3","#a6e16a"]},
      "legend": {"orient": "none", "legendX": -59, "legendY": 572, "direction": "horizontal", "title": " ", "titleOrient": "right", "titlePadding": 99, "columnPadding": 26,
       "symbolType": "M-5,0H5", "symbolSize": 100, "symbolOffset": 23, "symbolStrokeWidth": 5, "symbolOpacity": 1, "labelFontSize": 17, "labelFontStyle": "italic", "labelFont": "Liberation Sans", "labelOffset": 27, "labelLimit": 0,
       "fillColor": "#f0f0f0", "padding": 9,
       "encode": {"labels": {"update": {"fill": {"signal": "['#ff0000','#abc4e3','#a6e16a','#000000','#e0c59c'][indexof(['Ours','Plan3D (Z1)','Plan3D (Z2)','Star-Searcher (Z1)','Star-Searcher (Z2)'], datum.value)]"}}},
        "symbols": {"update": {"strokeCap": {"value": "round"}}}}}}
    }},
   {"data": {"values": [{"r2": "Star-Searcher (Z1)"}]},
    "transform": [{"filter": "false"}],
    "mark": {"type": "rule"},
    "encoding": {
     "color": {"field": "r2", "type": "nominal",
      "scale": {"domain": ["Star-Searcher (Z1)","Star-Searcher (Z2)"], "range": ["#000000","#e0c59c"]},
      "legend": {"orient": "none", "legendX": -59, "legendY": 601, "direction": "horizontal", "title": " ", "titleOrient": "right", "titlePadding": 99, "columnPadding": 59,
       "symbolType": "M-5,0H5", "symbolSize": 100, "symbolOffset": 23, "symbolStrokeWidth": 5, "symbolOpacity": 1, "labelFontSize": 17, "labelFontStyle": "italic", "labelFont": "Liberation Sans", "labelOffset": 27, "labelLimit": 0,
       "fillColor": "#f0f0f0", "padding": 9,
       "encode": {"labels": {"update": {"fill": {"signal": "['#ff0000','#abc4e3','#a6e16a','#000000','#e0c59c'][indexof(['Ours','Plan3D (Z1)','Plan3D (Z2)','Star-Searcher (Z1)','Star-Searcher (Z2)'], datum.value)]"}}},
        "symbols": {"update": {"strokeCap": {"value": "round"}}}}}}
    }}
  ]
 }
]
}
